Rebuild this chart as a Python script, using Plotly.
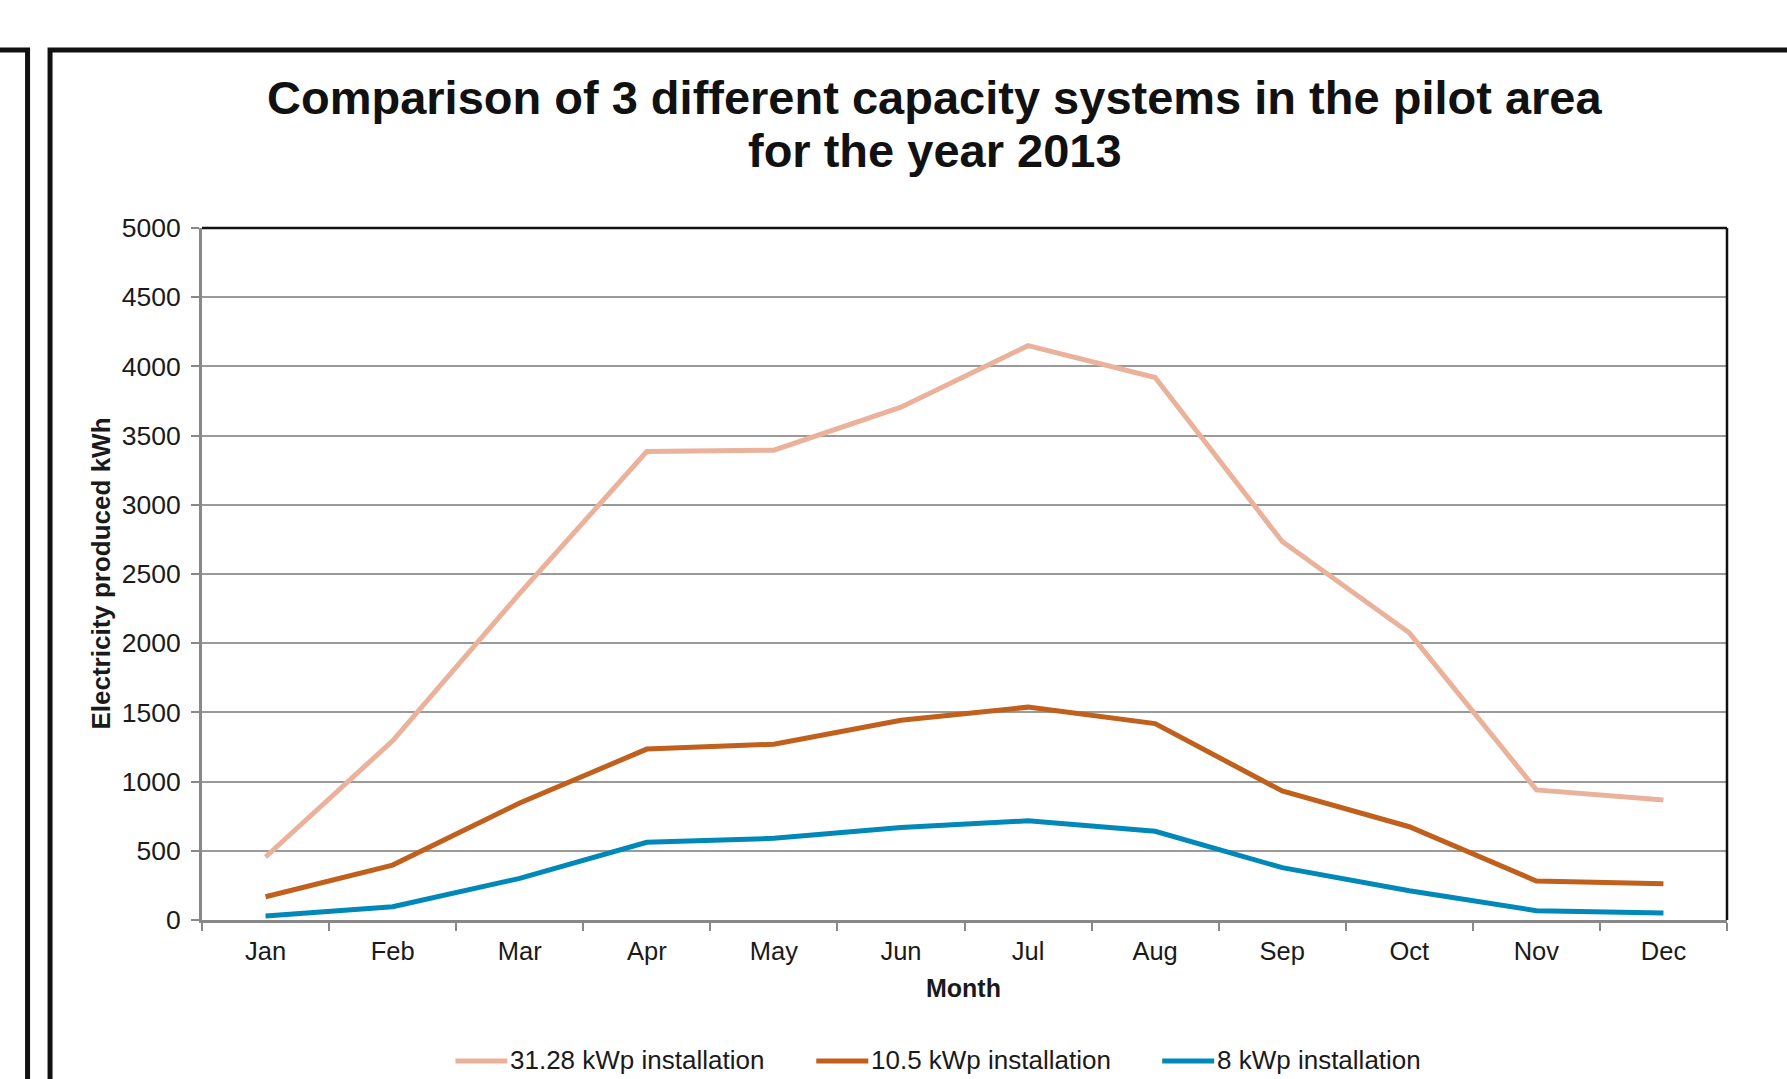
import plotly.graph_objects as go

# ---------------- data ----------------
months = ["Jan", "Feb", "Mar", "Apr", "May", "Jun", "Jul", "Aug", "Sep", "Oct", "Nov", "Dec"]
kwp_31_28 = [455, 1295, 2360, 3385, 3395, 3705, 4150, 3920, 2735, 2075, 940, 867]
kwp_10_5 = [168, 397, 845, 1235, 1270, 1443, 1538, 1419, 932, 674, 282, 262]
kwp_8 = [29, 96, 301, 561, 590, 669, 717, 641, 378, 212, 67, 50]
series_names = ["31.28 kWp installation", "10.5 kWp installation", "8 kWp installation"]
y_ticks = [0, 500, 1000, 1500, 2000, 2500, 3000, 3500, 4000, 4500, 5000]

title_line1 = "Comparison of 3 different capacity systems in the pilot area"
title_line2 = "for the year 2013"
x_title = "Month"
y_title = "Electricity produced kWh"

# ---------------- styling ----------------
colors = ["#EBB29B", "#C0601C", "#0088B9"]
W, H = 1787, 1079
L, R, T, B = 201.5, 1727, 228, 920  # plot area in pixels
FONT = "Liberation Sans, Arial, sans-serif"
TXT = "#1a1a1a"


def px_x(px):
    return (px - L) / (R - L)


def px_y(py):
    return (B - py) / (B - T)


fig = go.Figure()
for name, vals, col in zip(series_names, [kwp_31_28, kwp_10_5, kwp_8], colors):
    fig.add_trace(go.Scatter(
        x=months, y=vals, mode="lines", name=name,
        line=dict(color=col, width=5), showlegend=False,
    ))

fig.update_layout(
    width=W, height=H,
    margin=dict(l=L, r=W - R, t=T, b=H - B, pad=0),
    paper_bgcolor="white", plot_bgcolor="white",
    font=dict(family=FONT, size=25, color=TXT),
)

fig.update_xaxes(
    type="category", categoryorder="array", categoryarray=months,
    range=[-0.5, 11.5], tickson="boundaries",
    ticks="outside", ticklen=8, tickwidth=2, tickcolor="#888888",
    showline=True, linecolor="#888888", linewidth=3,
    showgrid=False, zeroline=False,
    tickfont=dict(size=25.5, color=TXT), ticklabelstandoff=6,
)
fig.update_yaxes(
    range=[0, 5000], tickvals=y_ticks,
    ticks="outside", ticklen=8, tickwidth=2, tickcolor="#888888",
    showline=True, linecolor="#888888", linewidth=3,
    showgrid=True, gridcolor="#9a9a9a", gridwidth=2, zeroline=False,
    tickfont=dict(size=26.5, color=TXT), ticklabelstandoff=5,
)

shapes = []
# plot area top and right borders (black)
shapes.append(dict(type="line", xref="paper", yref="paper", x0=0, x1=1, y0=1, y1=1,
                   line=dict(color="#111111", width=2.5)))
shapes.append(dict(type="line", xref="paper", yref="paper", x0=1, x1=1, y0=0, y1=1,
                   line=dict(color="#111111", width=2.5)))
# outer frames
shapes.append(dict(type="rect", xref="paper", yref="paper",
                   x0=px_x(-40), x1=px_x(27), y0=px_y(1120), y1=px_y(50),
                   line=dict(color="#111111", width=5)))
shapes.append(dict(type="rect", xref="paper", yref="paper",
                   x0=px_x(49.5), x1=px_x(1840), y0=px_y(1120), y1=px_y(50),
                   line=dict(color="#111111", width=5)))

annotations = []
annotations.append(dict(text="<b>" + title_line1 + "</b>", xref="paper", yref="paper",
                        x=px_x(934.5), y=px_y(98), xanchor="center", yanchor="middle",
                        showarrow=False, font=dict(size=47, color="#111111", family=FONT)))
annotations.append(dict(text="<b>" + title_line2 + "</b>", xref="paper", yref="paper",
                        x=px_x(934.5), y=px_y(150), xanchor="center", yanchor="middle",
                        showarrow=False, font=dict(size=47, color="#111111", family=FONT)))
annotations.append(dict(text="<b>" + x_title + "</b>", xref="paper", yref="paper",
                        x=px_x(963), y=px_y(988), xanchor="center", yanchor="middle",
                        showarrow=False, font=dict(size=25, color=TXT, family=FONT)))
annotations.append(dict(text="<b>" + y_title + "</b>", xref="paper", yref="paper",
                        x=px_x(100), y=px_y(574), xanchor="center", yanchor="middle",
                        textangle=-90, showarrow=False, font=dict(size=26, color=TXT, family=FONT)))

# manual legend
leg_sample_x = [455, 816, 1162]
leg_len = 52
leg_y = 1061
for name, col, sx in zip(series_names, colors, leg_sample_x):
    shapes.append(dict(type="line", xref="paper", yref="paper",
                       x0=px_x(sx), x1=px_x(sx + leg_len), y0=px_y(leg_y), y1=px_y(leg_y),
                       line=dict(color=col, width=5)))
    annotations.append(dict(text=name, xref="paper", yref="paper",
                            x=px_x(sx + leg_len + 1), y=px_y(leg_y - 1), xanchor="left", yanchor="middle",
                            showarrow=False, font=dict(size=26, color=TXT, family=FONT)))

fig.update_layout(shapes=shapes, annotations=annotations)
fig.write_html("out.html")
